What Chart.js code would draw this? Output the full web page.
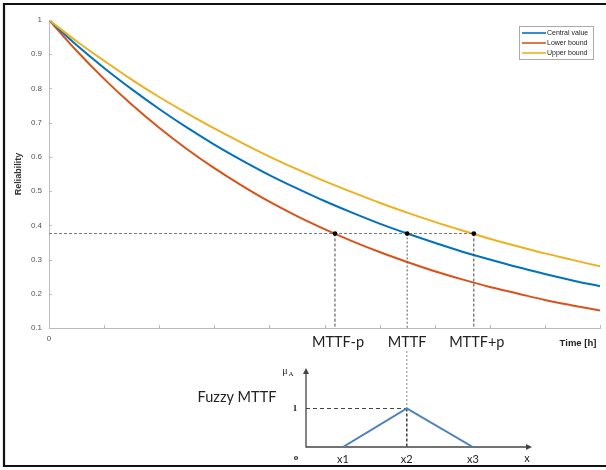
<!DOCTYPE html>
<html>
<head>
<meta charset="utf-8">
<script src="https://cdn.jsdelivr.net/npm/chart.js@4.4.1/dist/chart.umd.min.js"></script>
<style>
  html, body { margin: 0; padding: 0; background: #fff; }
  #wrap { position: relative; width: 606px; height: 470px; }
  #wrap canvas { position: absolute; left: 0; top: 0; }
</style>
</head>
<body>
<div id="wrap">
  <canvas id="main" width="606" height="470"></canvas>
  <canvas id="fuzzy" width="606" height="470"></canvas>
</div>
<script>
// time axis (arbitrary units, 0..100), reliability
var times = [0, 5, 10, 15, 20, 25, 30, 35, 40, 45, 50, 55, 60, 65, 70, 75, 80, 85, 90, 95, 100];
var centralValue = [1, 0.927, 0.860, 0.798, 0.740, 0.686, 0.636, 0.590, 0.547, 0.508, 0.471, 0.437, 0.405, 0.376, 0.349, 0.323, 0.300, 0.278, 0.258, 0.239, 0.222];
var lowerBound = [1, 0.910, 0.828, 0.753, 0.685, 0.623, 0.567, 0.516, 0.469, 0.427, 0.389, 0.354, 0.322, 0.293, 0.266, 0.242, 0.220, 0.201, 0.182, 0.166, 0.151];
var upperBound = [1, 0.938, 0.881, 0.826, 0.775, 0.728, 0.683, 0.641, 0.601, 0.564, 0.529, 0.497, 0.466, 0.437, 0.410, 0.385, 0.361, 0.339, 0.318, 0.299, 0.280];
var seriesNames = ['Central value', 'Lower bound', 'Upper bound'];
var seriesColors = ['#0072BD', '#D95319', '#EDB120'];

var markerTimes = [51.9, 65.0, 77.1];
var markerLabels = ['MTTF-p', 'MTTF', 'MTTF+p'];
var markerLevel = 0.376;

// fuzzy triangle inset
var fuzzyX = [1.65, 4.5, 7.45];
var fuzzyMu = [0, 1, 0];
var fuzzyLabels = ['x1', 'x2', 'x3'];

function pts(xs, ys) {
    return xs.map(function (x, i) { return { x: x, y: ys[i] }; });
}

var mainChart;

var mainDeco = {
    id: 'mainDeco',
    afterDraw: function (chart) {
        var ctx = chart.ctx;
        var xs = chart.scales.x, ys = chart.scales.y;
        var area = chart.chartArea;
        ctx.save();
        // inward tick marks
        ctx.strokeStyle = '#bbb';
        ctx.lineWidth = 1;
        ctx.beginPath();
        xs.ticks.forEach(function (t) {
            var px = Math.round(xs.getPixelForValue(t.value)) + 0.5;
            ctx.moveTo(px, area.bottom);
            ctx.lineTo(px, area.bottom - 3);
        });
        ys.ticks.forEach(function (t) {
            var py = Math.round(ys.getPixelForValue(t.value)) + 0.5;
            ctx.moveTo(area.left, py);
            ctx.lineTo(area.left + 3, py);
        });
        ctx.stroke();

        // MTTF labels
        ctx.fillStyle = '#222';
        ctx.font = '14.5px Lato';
        ctx.textAlign = 'center';
        ctx.textBaseline = 'middle';
        markerTimes.forEach(function (t, i) {
            ctx.fillText(markerLabels[i], xs.getPixelForValue(t) + (i === 1 ? 0 : 3), 342);
        });
        ctx.font = 'bold 9.5px "Liberation Sans"';
        ctx.fillText('Time [h]', 578, 343);

        // legend
        ctx.fillStyle = '#fff';
        ctx.fillRect(519, 26, 74, 33);
        ctx.strokeStyle = '#aaa';
        ctx.strokeRect(519.5, 26.5, 74, 33);
        ctx.font = '7px "Liberation Sans"';
        ctx.textAlign = 'left';
        seriesNames.forEach(function (n, i) {
            var y = 33 + i * 10;
            ctx.strokeStyle = seriesColors[i];
            ctx.lineWidth = 1.6;
            ctx.beginPath();
            ctx.moveTo(522, y);
            ctx.lineTo(546, y);
            ctx.stroke();
            ctx.fillStyle = '#222';
            ctx.fillText(n, 547, y + 0.5);
        });

        // picture frame
        ctx.strokeStyle = '#111';
        ctx.lineWidth = 2.2;
        ctx.beginPath();
        ctx.moveTo(606, 4);
        ctx.lineTo(4, 4);
        ctx.lineTo(4, 466);
        ctx.lineTo(606, 466);
        ctx.stroke();
        ctx.restore();
    }
};

mainChart = new Chart(document.getElementById('main'), {
    type: 'line',
    data: {
        datasets: [
            { data: pts(markerTimes, markerTimes.map(function () { return markerLevel; })), showLine: false,
              pointRadius: 2.4, pointBackgroundColor: '#000', pointBorderWidth: 0, order: 0 },
            { data: [{ x: 0, y: markerLevel }, { x: markerTimes[2], y: markerLevel }], borderColor: '#777',
              borderWidth: 1, borderDash: [3, 2], pointRadius: 0, order: 1 },
            { data: [{ x: markerTimes[0], y: markerLevel }, { x: markerTimes[0], y: 0.1 }], borderColor: '#444',
              borderWidth: 1, borderDash: [3, 2], pointRadius: 0, order: 1 },
            { data: [{ x: markerTimes[1], y: markerLevel }, { x: markerTimes[1], y: 0.1 }], borderColor: '#555',
              borderWidth: 1, borderDash: [2, 2], pointRadius: 0, order: 1 },
            { data: [{ x: markerTimes[2], y: markerLevel }, { x: markerTimes[2], y: 0.1 }], borderColor: '#444',
              borderWidth: 1, borderDash: [3, 2], pointRadius: 0, order: 1 },
            { label: seriesNames[0], data: pts(times, centralValue), borderColor: seriesColors[0], order: 3 },
            { label: seriesNames[1], data: pts(times, lowerBound), borderColor: seriesColors[1], order: 4 },
            { label: seriesNames[2], data: pts(times, upperBound), borderColor: seriesColors[2], order: 2 }
        ]
    },
    options: {
        responsive: false,
        animation: false,
        events: [],
        layout: { padding: { left: 4, top: 20, right: 6, bottom: 122 } },
        elements: {
            line: { borderWidth: 2, cubicInterpolationMode: 'monotone', fill: false },
            point: { radius: 0 }
        },
        plugins: { legend: { display: false }, tooltip: { enabled: false } },
        scales: {
            x: {
                type: 'linear', min: 0, max: 100,
                afterFit: function (s) { s.height = 20; },
                grid: { display: false, tickLength: 4 },
                border: { color: '#bbb' },
                ticks: {
                    stepSize: 10, padding: 2, maxRotation: 0, autoSkip: false,
                    font: { size: 8, family: 'Liberation Sans' }, color: '#555',
                    callback: function (v) { return v === 0 ? '0' : ''; }
                }
            },
            y: {
                min: 0.1, max: 1,
                afterFit: function (s) { s.width = 45; },
                grid: { display: false, tickLength: 4 },
                border: { color: '#bbb' },
                ticks: {
                    stepSize: 0.1, padding: 3, font: { size: 8, family: 'Liberation Sans' }, color: '#555',
                    callback: function (v) { return String(+v.toFixed(1)); }
                },
                title: { display: true, text: 'Reliability', color: '#333', padding: { top: 9, bottom: 0 },
                         font: { size: 9, weight: 'bold', family: 'Liberation Sans' } }
            }
        }
    },
    plugins: [mainDeco]
});

var fuzzyDeco = {
    id: 'fuzzyDeco',
    beforeDatasetsDraw: function (chart) {
        var ctx = chart.ctx;
        var xs = chart.scales.x, ys = chart.scales.y;
        var x0 = xs.getPixelForValue(0), y0 = ys.getPixelForValue(0);
        var xEnd = xs.getPixelForValue(10), yEnd = ys.getPixelForValue(2);
        var apexX = xs.getPixelForValue(fuzzyX[1]), apexY = ys.getPixelForValue(1);
        ctx.save();
        // dotted link from MTTF down to the apex
        ctx.strokeStyle = '#888';
        ctx.lineWidth = 1;
        ctx.setLineDash([2, 2]);
        ctx.beginPath();
        ctx.moveTo(apexX, 351);
        ctx.lineTo(apexX, apexY);
        ctx.stroke();
        ctx.setLineDash([]);
        // axes with arrows
        ctx.strokeStyle = '#444';
        ctx.fillStyle = '#444';
        ctx.lineWidth = 1.3;
        ctx.beginPath();
        ctx.moveTo(x0, yEnd);
        ctx.lineTo(x0, y0);
        ctx.lineTo(xEnd, y0);
        ctx.stroke();
        ctx.beginPath();
        ctx.moveTo(x0, yEnd - 2);
        ctx.lineTo(x0 - 3, yEnd + 4);
        ctx.lineTo(x0 + 3, yEnd + 4);
        ctx.closePath();
        ctx.fill();
        ctx.beginPath();
        ctx.moveTo(xEnd + 2, y0);
        ctx.lineTo(xEnd - 4, y0 - 3);
        ctx.lineTo(xEnd - 4, y0 + 3);
        ctx.closePath();
        ctx.fill();
        ctx.restore();
    },
    afterDraw: function (chart) {
        var ctx = chart.ctx;
        var xs = chart.scales.x, ys = chart.scales.y;
        var x0 = xs.getPixelForValue(0), y0 = ys.getPixelForValue(0);
        ctx.save();
        ctx.fillStyle = '#222';
        ctx.textAlign = 'center';
        ctx.textBaseline = 'middle';
        ctx.font = '14.5px Lato';
        ctx.fillText('Fuzzy MTTF', 237, 397);
        ctx.font = '11px Lato';
        fuzzyX.forEach(function (x, i) {
            ctx.fillText(fuzzyLabels[i], xs.getPixelForValue(x), y0 + 12);
        });
        ctx.fillText('x', xs.getPixelForValue(10) - 3, y0 + 11);
        ctx.font = 'bold 9px "Liberation Serif"';
        ctx.fillText('o', x0 - 10, y0 + 11);
        ctx.fillText('1', x0 - 11, ys.getPixelForValue(1));
        ctx.font = '10px "Liberation Serif"';
        ctx.fillText('\u03bc', x0 - 21, ys.getPixelForValue(2) + 1);
        ctx.font = '7px "Liberation Serif"';
        ctx.fillText('A', x0 - 15, ys.getPixelForValue(2) + 4);
        ctx.restore();
    }
};

new Chart(document.getElementById('fuzzy'), {
    type: 'line',
    data: {
        datasets: [
            { data: pts(fuzzyX, fuzzyMu), borderColor: '#4f81bd', borderWidth: 2, order: 0 },
            { data: [{ x: 0, y: 1 }, { x: fuzzyX[1], y: 1 }], borderColor: '#444', borderWidth: 1,
              borderDash: [4, 3], order: 1 },
            { data: [{ x: fuzzyX[1], y: 1 }, { x: fuzzyX[1], y: 0 }], borderColor: '#333', borderWidth: 1.4,
              borderDash: [3, 2], order: 1 }
        ]
    },
    options: {
        responsive: false,
        animation: false,
        events: [],
        layout: { padding: { left: 306, right: 76, top: 370, bottom: 23 } },
        elements: { line: { tension: 0, fill: false }, point: { radius: 0 } },
        plugins: { legend: { display: false }, tooltip: { enabled: false } },
        scales: {
            x: { type: 'linear', min: 0, max: 10, display: false },
            y: { min: 0, max: 2, display: false }
        }
    },
    plugins: [fuzzyDeco]
});
</script>
</body>
</html>
